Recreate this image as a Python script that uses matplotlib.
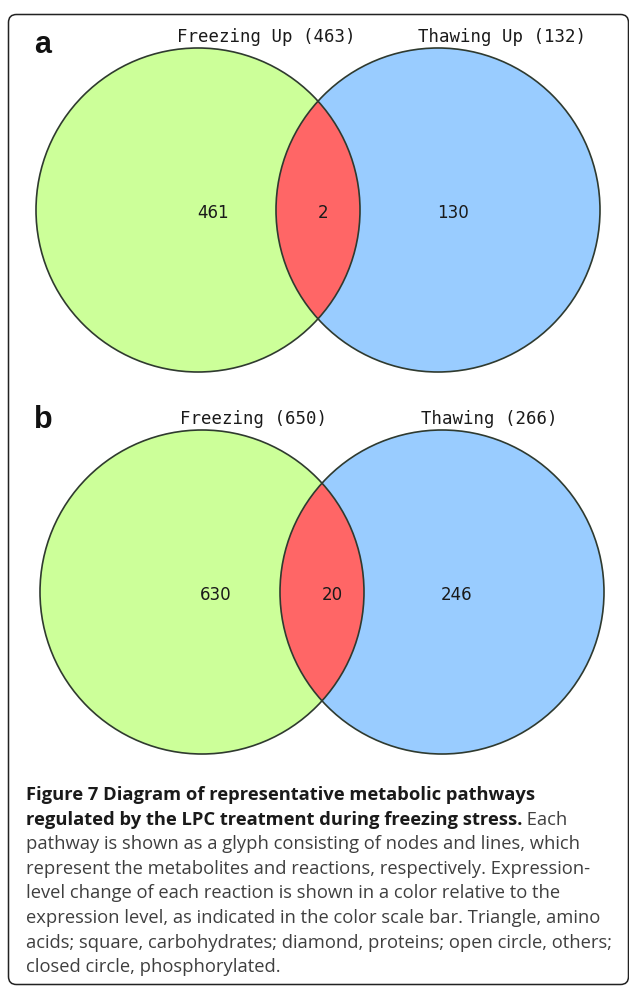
import matplotlib
matplotlib.use("Agg")
import matplotlib.pyplot as plt
from matplotlib.patches import Circle, FancyBboxPatch

# ---- data ----
panel_letters = ["a", "b"]
left_names = ["Freezing Up (463)", "Freezing (650)"]
right_names = ["Thawing Up (132)", "Thawing (266)"]
only_left = [461, 630]
both = [2, 20]
only_right = [130, 246]

caption_bold = ["Figure 7 Diagram of representative metabolic pathways",
                "regulated by the LPC treatment during freezing stress."]
caption_rest = [" Each",
                "pathway is shown as a glyph consisting of nodes and lines, which",
                "represent the metabolites and reactions, respectively. Expression-",
                "level change of each reaction is shown in a color relative to the",
                "expression level, as indicated in the color scale bar. Triangle, amino",
                "acids; square, carbohydrates; diamond, proteins; open circle, others;",
                "closed circle, phosphorylated."]

# ---- layout (pixel space) ----
W, H = 629, 986
fig = plt.figure(figsize=(W / 100, H / 100), dpi=100)
ax = fig.add_axes([0, 0, 1, 1])
ax.set_xlim(0, W)
ax.set_ylim(H, 0)
ax.set_aspect("equal")
ax.axis("off")

GREEN = "#ccff99"
BLUE = "#99ccff"
RED = "#ff6666"
EDGE = "#2f3a2f"

frame = FancyBboxPatch((8.5, 14.5), 620, 970, boxstyle="round,pad=0,rounding_size=8",
                       fill=False, edgecolor="#222222", linewidth=1.1)
ax.add_patch(frame)

R = 162
panels = [
    dict(cy=210, cl=198, cr=438, letter_xy=(34, 45), ly=37,
         lname_x=266, rname_x=502, num_y=213, nx=(213, 323, 453)),
    dict(cy=592, cl=202, cr=442, letter_xy=(34, 420), ly=419,
         lname_x=254, rname_x=489, num_y=595, nx=(216, 332, 457)),
]

for i, p in enumerate(panels):
    cy = p["cy"]
    cL = Circle((p["cl"], cy), R, facecolor=GREEN, edgecolor="none", zorder=1)
    cR = Circle((p["cr"], cy), R, facecolor=BLUE, edgecolor="none", zorder=1)
    ax.add_patch(cL)
    ax.add_patch(cR)
    lens = Circle((p["cr"], cy), R, facecolor=RED, edgecolor="none", zorder=2)
    ax.add_patch(lens)
    lens.set_clip_path(cL)
    for cx in (p["cl"], p["cr"]):
        ax.add_patch(Circle((cx, cy), R, fill=False, edgecolor=EDGE, linewidth=1.2, zorder=3))

    ax.text(p["letter_xy"][0], p["letter_xy"][1], panel_letters[i], fontsize=22,
            fontweight="bold", family="Liberation Sans", ha="left", va="center", color="#111111")
    ax.text(p["lname_x"], p["ly"], left_names[i], fontsize=12.5, family="DejaVu Sans Mono",
            ha="center", va="center", color="#1a1a1a")
    ax.text(p["rname_x"], p["ly"], right_names[i], fontsize=12.5, family="DejaVu Sans Mono",
            ha="center", va="center", color="#1a1a1a")
    ax.text(p["nx"][0], p["num_y"], str(only_left[i]), fontsize=12, ha="center", va="center",
            color="#1a1a1a")
    ax.text(p["nx"][1], p["num_y"], str(both[i]), fontsize=12, ha="center", va="center",
            color="#1a1a1a")
    ax.text(p["nx"][2], p["num_y"], str(only_right[i]), fontsize=12, ha="center", va="center",
            color="#1a1a1a")

# ---- caption ----
CAP_FS = 13.2
x0 = 26
y0 = 795
dy = 24.6
BOLD_C = "#1a1a1a"
REG_C = "#3f3f3f"
t1 = ax.text(x0, y0, caption_bold[0], fontsize=CAP_FS, family="Open Sans", fontweight="bold",
             ha="left", va="center", color=BOLD_C)
t2 = ax.text(x0, y0 + dy, caption_bold[1], fontsize=CAP_FS, family="Open Sans", fontweight="bold",
             ha="left", va="center", color=BOLD_C)
ax.annotate(caption_rest[0], xy=(1, 0), xycoords=t2, ha="left", va="bottom",
            fontsize=CAP_FS, family="Open Sans", color=REG_C)
for k, line in enumerate(caption_rest[1:]):
    ax.text(x0, y0 + dy * (k + 2), line, fontsize=CAP_FS, family="Open Sans",
            ha="left", va="center", color=REG_C)

fig.savefig("out.png", dpi=100)
